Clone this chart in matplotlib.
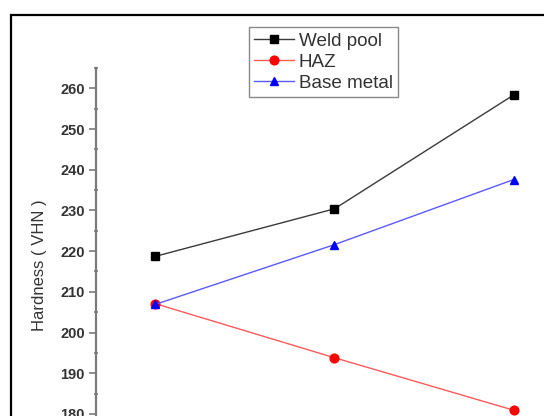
import matplotlib
matplotlib.use('Agg')
import matplotlib.pyplot as plt
from matplotlib.patches import Rectangle
from matplotlib.ticker import MultipleLocator

plt.rcParams['font.family'] = ['Liberation Sans', 'DejaVu Sans']

# values
positions = [1, 2, 3]
weld_pool = [218.7, 230.4, 258.4]
haz = [207.1, 193.8, 180.9]
base_metal = [206.9, 221.6, 237.6]
y_ticks = [180, 190, 200, 210, 220, 230, 240, 250, 260]

W, H = 544, 416
fig = plt.figure(figsize=(W / 100, H / 100), dpi=100)

# axes runs past the bottom and right edge (the reference is a crop)
ax_top, ax_bot = 68, 454.6
ax_left, ax_right = 96, 573
ax = fig.add_axes([ax_left / W, (H - ax_bot) / H,
                   (ax_right - ax_left) / W, (ax_bot - ax_top) / H])

ax.plot(positions, weld_pool, color='#3a3a3a', lw=1.0, marker='s', ms=5.5,
        mfc='black', mec='black', label='Weld pool')
ax.plot(positions, haz, color='#ff5a5a', lw=1.0, marker='o', ms=6.3,
        mfc='red', mec='red', label='HAZ')
ax.plot(positions, base_metal, color='#5a5aff', lw=1.0, marker='^', ms=6.3,
        mfc='blue', mec='blue', label='Base metal')

ax.set_xlim(0.67, 3.33)
ax.set_ylim(170, 265)
ax.set_yticks(y_ticks)
ax.yaxis.set_minor_locator(MultipleLocator(5))
ax.set_xticks([])

for s in ['top', 'right', 'bottom']:
    ax.spines[s].set_visible(False)
ax.spines['left'].set_color('#7a7a7a')
ax.spines['left'].set_linewidth(1.6)

ax.tick_params(axis='y', which='major', direction='out', length=5, width=1.2,
               color='#7a7a7a', pad=3, labelsize=10.5, labelcolor='#333333')
ax.tick_params(axis='y', which='minor', direction='inout', length=2.5, width=1.2,
               color='#7a7a7a')
for lab in ax.get_yticklabels():
    lab.set_fontweight('bold')

fig.text(40 / W, 1 - 265 / H, 'Hardness ( VHN )', rotation=90, ha='center',
         va='center', fontsize=12, color='#333333')

leg = ax.legend(loc='upper left', bbox_to_anchor=(249 / W, 1 - 27 / H),
                bbox_transform=fig.transFigure, fontsize=13.6, frameon=True,
                fancybox=False, framealpha=1, edgecolor='#888888',
                handlelength=2.1, handletextpad=0.25, labelspacing=0.2,
                borderpad=0.28, borderaxespad=0)
leg.get_frame().set_linewidth(1.0)
for t in leg.get_texts():
    t.set_color('#333333')

# outer frame of the original figure
fig.add_artist(Rectangle((11 / W, -0.2), 1.2, 1.2 - 15 / H,
                         transform=fig.transFigure, fill=False,
                         ec='black', lw=1.6))

fig.savefig('out.png', dpi=100)
